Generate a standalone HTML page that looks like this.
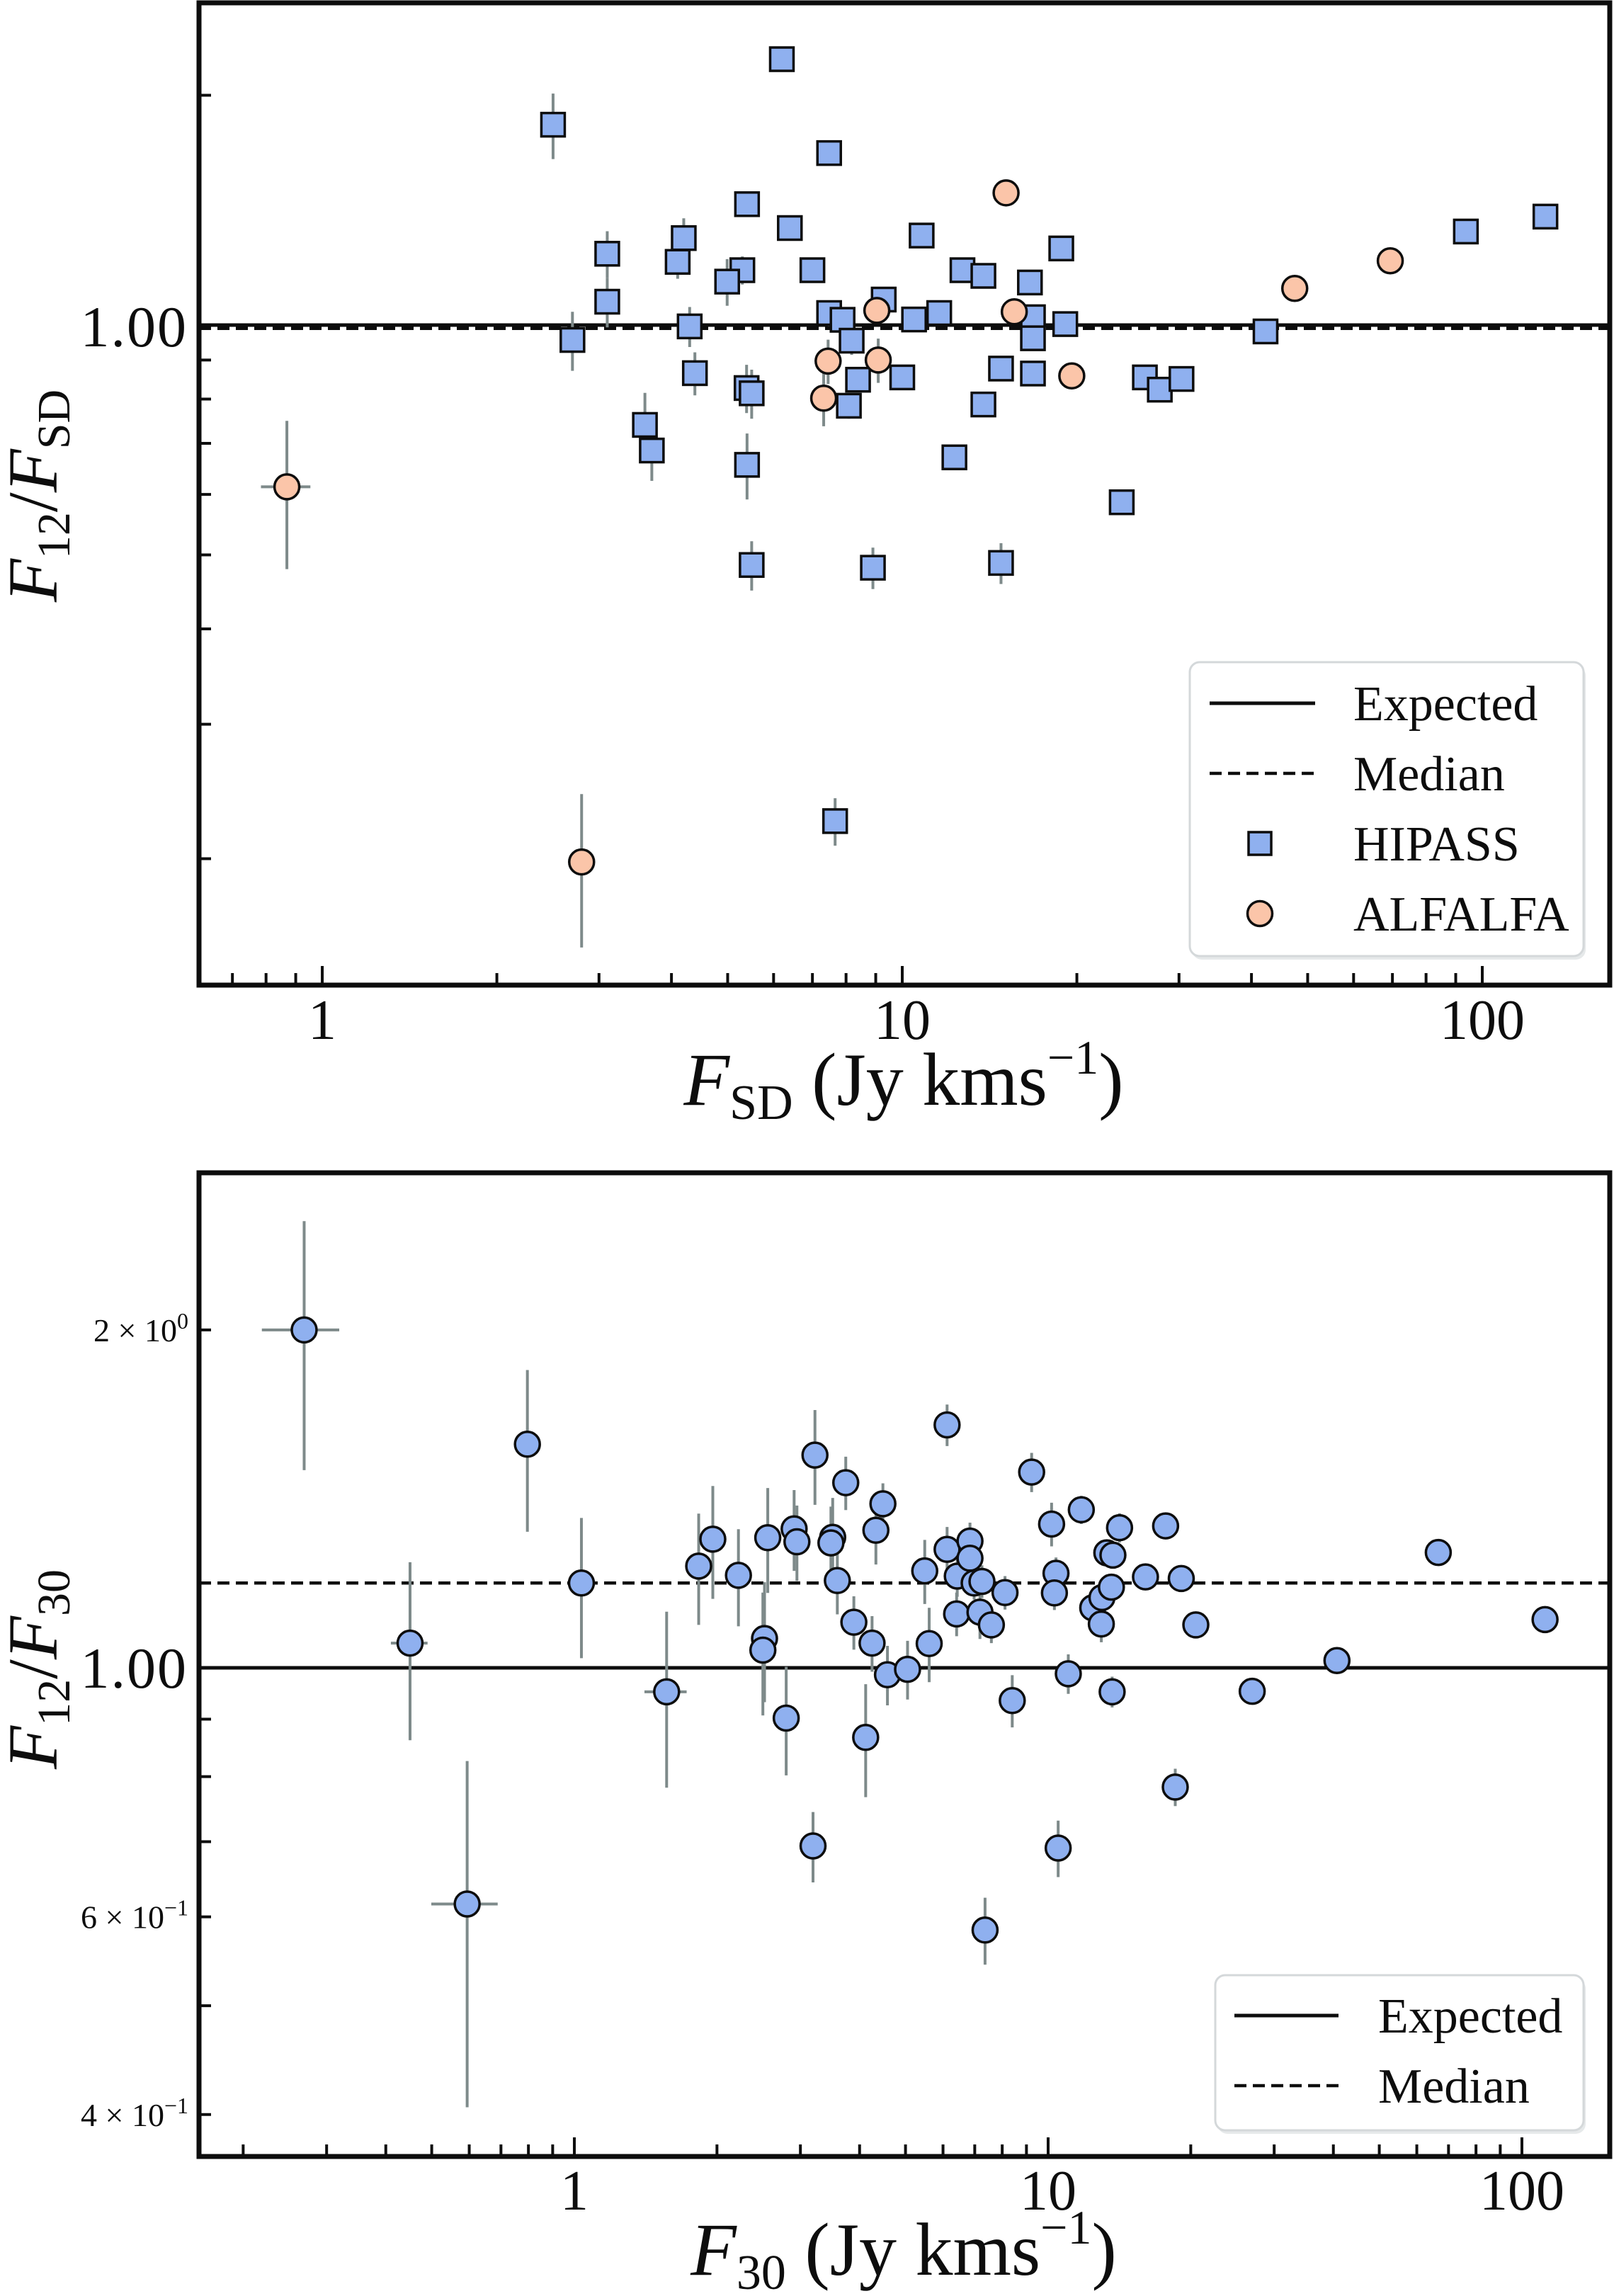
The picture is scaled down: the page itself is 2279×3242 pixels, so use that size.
<!DOCTYPE html>
<html><head><meta charset="utf-8">
<style>
html,body{margin:0;padding:0;background:#fff;}
svg{display:block;font-family:"Liberation Serif","DejaVu Serif",serif;}
</style></head>
<body>
<svg id="fig" width="2279" height="3242" viewBox="0 0 2279 3242" xmlns="http://www.w3.org/2000/svg">
<g id="top"></g>
<g id="bot"></g>
</svg>
<script>
// ---- top panel data ----
const hipassX = [2.50,6.20,7.48,5.40,6.40,3.10,4.20,4.10,5.30,4.99,7.0,3.10,10.8,12.7,13.8,16.6,18.8,2.70,4.30,7.48,7.89,9.29,8.18,10.48,11.58,16.8,19.1,16.8,42.3,4.39,5.39,5.50,8.39,10.0,8.09,14.8,16.8,13.8,26.2,27.8,30.3,3.60,3.70,5.40,12.3,23.9,5.50,8.90,14.8,7.66,93.7,128.5];
const hipassY = [1.83,2.23,1.68,1.44,1.34,1.24,1.30,1.21,1.18,1.14,1.18,1.073,1.31,1.18,1.16,1.137,1.26,0.956,0.996,1.037,1.016,1.08,0.954,1.017,1.037,1.024,1.003,0.961,0.981,0.865,0.827,0.814,0.848,0.854,0.784,0.877,0.864,0.787,0.854,0.823,0.850,0.740,0.685,0.656,0.671,0.586,0.485,0.481,0.488,0.224,1.326,1.387];
const hipassYerr = [0.18,0.02,0.02,0.02,0.03,0.087,0.08,0.06,0.05,0.08,0.03,0.08,0.02,0.02,0.02,0.02,0.02,0.085,0.06,0.04,0.03,0.03,0.04,0.02,0.02,0.02,0.02,0.02,0.02,0.056,0.06,0.06,0.02,0.03,0.03,0.02,0.02,0.02,0.02,0.02,0.02,0.075,0.06,0.065,0.02,0.01,0.036,0.03,0.03,0.016,0.02,0.02];
const alfalfaX = [15.1,9.04,15.6,7.45,9.09,7.32,19.6,0.869,2.80,47.5,69.4];
const alfalfaY = [1.49,1.045,1.041,0.897,0.90,0.802,0.858,0.614,0.198,1.117,1.214];
const alfalfaYerr = [0.02,0.02,0.02,0.06,0.06,0.065,0.02,0.135,0.045,0.02,0.02];
const alfalfaXerr = [0,0,0,0,0,0,0,0.085,0,0,0];
const topMedian = 0.99;
const topXTickLabels = ["1","10","100"];
const topXTickValues = [1,10,100];
// ---- bottom panel data ----
const f30X = [1.566,1.83,1.96,2.22,2.56,2.52,2.50,2.80,2.91,2.95,3.22,3.19,3.51,3.48,3.59,3.74,3.89,4.12,4.25,4.33,4.48,4.58,5.05,5.49,5.61,6.12,6.12,6.41,6.43,6.84,6.84,6.98,7.25,7.18,7.59,7.36,8.11,8.40,9.23,10.17,10.39,10.31,10.5,11.03,11.75,12.42,12.99,12.95,13.3,13.7,13.6,13.65,14.15,16.05,17.7,18.55,19.1,20.5,0.269,0.45,0.594,0.796,1.035,40.7,26.96,66.6,111.9];
const f30Y = [0.952,1.232,1.302,1.209,1.306,1.062,1.037,0.902,1.33,1.295,1.547,0.694,1.307,1.292,1.196,1.462,1.098,0.867,1.052,1.326,1.40,0.986,0.997,1.22,1.051,1.646,1.275,1.117,1.207,1.297,1.252,1.19,1.194,1.121,1.092,0.584,1.167,0.935,1.494,1.343,1.214,1.166,0.691,0.988,1.383,1.131,1.155,1.094,1.266,1.26,1.18,0.952,1.333,1.205,1.338,0.783,1.201,1.092,2.0,1.052,0.616,1.582,1.19,1.015,0.953,1.267,1.104];
const f30Yerr = [0.17,0.14,0.15,0.12,0.14,0.13,0.13,0.10,0.11,0.10,0.15,0.05,0.11,0.10,0.08,0.08,0.06,0.10,0.06,0.09,0.06,0.06,0.06,0.08,0.08,0.07,0.06,0.05,0.05,0.05,0.04,0.04,0.04,0.06,0.04,0.04,0.04,0.05,0.06,0.06,0.04,0.04,0.04,0.04,0.04,0.04,0.04,0.04,0.03,0.03,0.03,0.03,0.04,0.03,0.03,0.03,0.03,0.03,0.5,0.19,0.21,0.26,0.17,0.02,0.02,0.02,0.02];
const f30Xerr = [0.16,0,0,0.06,0,0.1,0.1,0.1,0,0,0.1,0.12,0.15,0.12,0,0,0,0.15,0,0,0,0,0,0,0.2,0,0,0,0,0,0,0,0,0,0,0,0,0,0,0,0,0,0,0,0,0,0,0,0,0,0,0,0,0,0,0,0,0,0.05,0.04,0.095,0.05,0,0,0,0,0];
const botMedian = 1.19;
const botXTickLabels = ["1","10","100"];
const botXTickValues = [1,10,100];

const NS = "http://www.w3.org/2000/svg";
function mk(parent, tag, attrs, text){
  const e = document.createElementNS(NS, tag);
  for (const k in attrs) e.setAttribute(k, attrs[k]);
  if (text !== undefined) e.textContent = text;
  parent.appendChild(e);
  return e;
}
function logAxis(px0, px1, l0, l1){ return v => px0 + (Math.log10(v) - l0) / (l1 - l0) * (px1 - px0); }

const ERR = "#7e8a8a", BLUE = "#8fb0ef", PEACH = "#fbc5a9", INK = "#0d0d0d";

function frame(g, L, R, T, B, X, Y, xminors, yminors, ymajors){
  xminors.forEach(v => {
    const x = X(v);
    const t = mk(g, "line", {x1:x, x2:x, y1:B, y2:B-17, stroke:INK, "stroke-width":4});
    
    
  });
  [1,10,100].forEach(v => {
    const x = X(v);
    const t = mk(g, "line", {x1:x, x2:x, y1:B, y2:B-27, stroke:INK, "stroke-width":4});
    
    
  });
  yminors.forEach(v => {
    const y = Y(v);
    const t = mk(g, "line", {x1:L, x2:L+17, y1:y, y2:y, stroke:INK, "stroke-width":4});
    
    
  });
  ymajors.forEach(v => {
    const y = Y(v);
    const t = mk(g, "line", {x1:L, x2:L+27, y1:y, y2:y, stroke:INK, "stroke-width":4});
    
    
  });
  const r = mk(g, "rect", {x:L, y:T, width:R-L, height:B-T, fill:"none", stroke:INK, "stroke-width":7});
  
  
}

function errbar(g, x1, y1, x2, y2){
  const l = mk(g, "line", {x1:x1, y1:y1, x2:x2, y2:y2, stroke:ERR, "stroke-width":4});
  
  
}

function legendBox(g, x, y, w, h){
  mk(g, "rect", {x:x+3, y:y+5, width:w, height:h, rx:14, fill:"#e6e9ea"});
  const b = mk(g, "rect", {x:x, y:y, width:w, height:h, rx:14, fill:"#fff", stroke:"#d4d8da", "stroke-width":3});
  
  
}

// ================= TOP =================
(function(){
  const g = document.getElementById("top");
  const L=281, R=2273, T=4, B=1391;
  const X = logAxis(L, R, -0.2125, 2.2198);
  const Y = logAxis(B, T, -0.8646, 0.4221);
  const cp = mk(g, "clipPath", {id:"clipTop"});
  mk(cp, "rect", {x:L, y:T, width:R-L, height:B-T});
  const pg = mk(g, "g", {"clip-path":"url(#clipTop)"});
  const med = mk(pg, "line", {x1:L, x2:R, y1:Y(topMedian), y2:Y(topMedian), stroke:INK, "stroke-width":4.5, "stroke-dasharray":"17 9"});
  
  
  const exp = mk(pg, "line", {x1:L, x2:R, y1:Y(1), y2:Y(1), stroke:INK, "stroke-width":5});
  
  
  hipassX.forEach((v,i) => {
    const e = hipassYerr[i] || 0.02;
    errbar(pg, X(v), Y(hipassY[i]+e), X(v), Y(Math.max(hipassY[i]-e, 0.01)));
  });
  hipassX.forEach((v,i) => {
    const s = 33;
    const m = mk(pg, "rect", {x:X(v)-s/2, y:Y(hipassY[i])-s/2, width:s, height:s, fill:BLUE, stroke:INK, "stroke-width":3.5});
    
    
  });
  alfalfaX.forEach((v,i) => {
    const e = alfalfaYerr[i];
    errbar(pg, X(v), Y(alfalfaY[i]+e), X(v), Y(alfalfaY[i]-e));
    if (alfalfaXerr[i] > 0) errbar(pg, X(v-alfalfaXerr[i]), Y(alfalfaY[i]), X(v+alfalfaXerr[i]), Y(alfalfaY[i]));
  });
  alfalfaX.forEach((v,i) => {
    const m = mk(pg, "circle", {cx:X(v), cy:Y(alfalfaY[i]), r:17.5, fill:PEACH, stroke:INK, "stroke-width":3.5});
    
    
  });
  frame(g, L, R, T, B, X, Y,
    [0.7,0.8,0.9,2,3,4,5,6,7,8,9,20,30,40,50,60,70,80,90],
    [2,0.9,0.8,0.7,0.6,0.5,0.4,0.3,0.2], [1]);
  topXTickValues.forEach((v,i) => {
    const t = mk(g, "text", {x:X(v), y:1467, "font-size":80, "text-anchor":"middle", fill:INK}, topXTickLabels[i]);
    
    
  });
  const yl = mk(g, "text", {x:265, y:Y(1)+30, "font-size":82, "text-anchor":"end", fill:INK, "letter-spacing":"2"}, "1.00");
  
  
  const xt = mk(g, "text", {x:1276, y:1560, "font-size":106, "text-anchor":"middle", fill:INK});
  
  
  mk(xt, "tspan", {"font-style":"italic"}, "F");
  mk(xt, "tspan", {"font-size":70, dy:20}, "SD");
  mk(xt, "tspan", {dy:-20}, " (Jy kms");
  mk(xt, "tspan", {"font-size":68, dy:-44}, "\u22121");
  mk(xt, "tspan", {dy:44}, ")");
  const yt = mk(g, "text", {x:0, y:0, "font-size":100, "text-anchor":"middle", fill:INK, transform:"translate(80,700) rotate(-90)"});
  
  
  mk(yt, "tspan", {"font-style":"italic"}, "F");
  mk(yt, "tspan", {"font-size":66, dy:18}, "12");
  mk(yt, "tspan", {dy:-18}, "/");
  mk(yt, "tspan", {"font-style":"italic"}, "F");
  mk(yt, "tspan", {"font-size":66, dy:18}, "SD");
  const lg = mk(g, "g", {});
  
  
  legendBox(lg, 1680, 935, 556, 415);
  const ys = [993, 1092, 1191, 1290];
  const l1 = mk(lg, "line", {x1:1708, x2:1857, y1:ys[0], y2:ys[0], stroke:INK, "stroke-width":5});
  
  
  const l2 = mk(lg, "line", {x1:1708, x2:1857, y1:ys[1], y2:ys[1], stroke:INK, "stroke-width":4.5, "stroke-dasharray":"17 9"});
  
  
  const sq = mk(lg, "rect", {x:1779-16, y:ys[2]-16, width:32, height:32, fill:BLUE, stroke:INK, "stroke-width":3.5});
  
  
  const ci = mk(lg, "circle", {cx:1779, cy:ys[3], r:17.5, fill:PEACH, stroke:INK, "stroke-width":3.5});
  
  
  ["Expected","Median","HIPASS","ALFALFA"].forEach((s,i) => {
    const t = mk(lg, "text", {x:1911, y:ys[i]+24, "font-size":70, fill:INK}, s);
    
    
  });
})();

// ================= BOTTOM =================
(function(){
  const g = document.getElementById("bot");
  const L=281, R=2273, T=1656, B=3045;
  const X = logAxis(L, R, -0.7922, 2.1854);
  const Y = logAxis(B, T, -0.4353, 0.441);
  const cp = mk(g, "clipPath", {id:"clipBot"});
  mk(cp, "rect", {x:L, y:T, width:R-L, height:B-T});
  const pg = mk(g, "g", {"clip-path":"url(#clipBot)"});
  const med = mk(pg, "line", {x1:L, x2:R, y1:Y(botMedian), y2:Y(botMedian), stroke:INK, "stroke-width":4.5, "stroke-dasharray":"17 9"});
  
  
  const exp = mk(pg, "line", {x1:L, x2:R, y1:Y(1), y2:Y(1), stroke:INK, "stroke-width":5});
  
  
  f30X.forEach((v,i) => {
    const e = f30Yerr[i];
    errbar(pg, X(v), Y(f30Y[i]+e), X(v), Y(f30Y[i]-e));
    const xe = f30Xerr[i];
    if (xe > 0) errbar(pg, X(v-xe), Y(f30Y[i]), X(v+xe), Y(f30Y[i]));
  });
  f30X.forEach((v,i) => {
    const m = mk(pg, "circle", {cx:X(v), cy:Y(f30Y[i]), r:17.5, fill:BLUE, stroke:INK, "stroke-width":3.5});
    
    
  });
  frame(g, L, R, T, B, X, Y,
    [0.2,0.3,0.4,0.5,0.6,0.7,0.8,0.9,2,3,4,5,6,7,8,9,20,30,40,50,60,70,80,90],
    [2,0.9,0.8,0.7,0.6,0.5,0.4], [1]);
  botXTickValues.forEach((v,i) => {
    const t = mk(g, "text", {x:X(v), y:3120, "font-size":80, "text-anchor":"middle", fill:INK}, botXTickLabels[i]);
    
    
  });
  const yl = mk(g, "text", {x:265, y:Y(1)+28, "font-size":82, "text-anchor":"end", fill:INK, "letter-spacing":"2"}, "1.00");
  
  
  [[2,"2","0"],[0.6,"6","\u22121"],[0.4,"4","\u22121"]].forEach(d => {
    const t = mk(g, "text", {x:266, y:Y(d[0])+16, "font-size":46, "text-anchor":"end", fill:INK});
    
    
    mk(t, "tspan", {}, d[1] + " \u00d7 10");
    mk(t, "tspan", {"font-size":32, dy:-18}, d[2]);
  });
  const xt = mk(g, "text", {x:1276, y:3212, "font-size":106, "text-anchor":"middle", fill:INK});
  
  
  mk(xt, "tspan", {"font-style":"italic"}, "F");
  mk(xt, "tspan", {"font-size":70, dy:20}, "30");
  mk(xt, "tspan", {dy:-20}, " (Jy kms");
  mk(xt, "tspan", {"font-size":68, dy:-44}, "\u22121");
  mk(xt, "tspan", {dy:44}, ")");
  const yt = mk(g, "text", {x:0, y:0, "font-size":100, "text-anchor":"middle", fill:INK, transform:"translate(80,2357) rotate(-90)"});
  
  
  mk(yt, "tspan", {"font-style":"italic"}, "F");
  mk(yt, "tspan", {"font-size":66, dy:18}, "12");
  mk(yt, "tspan", {dy:-18}, "/");
  mk(yt, "tspan", {"font-style":"italic"}, "F");
  mk(yt, "tspan", {"font-size":66, dy:18}, "30");
  const lg = mk(g, "g", {});
  
  
  legendBox(lg, 1716, 2789, 520, 219);
  const ys = [2846, 2945];
  const l1 = mk(lg, "line", {x1:1743, x2:1890, y1:ys[0], y2:ys[0], stroke:INK, "stroke-width":5});
  
  
  const l2 = mk(lg, "line", {x1:1743, x2:1890, y1:ys[1], y2:ys[1], stroke:INK, "stroke-width":4.5, "stroke-dasharray":"17 9"});
  
  
  ["Expected","Median"].forEach((s,i) => {
    const t = mk(lg, "text", {x:1946, y:ys[i]+24, "font-size":70, fill:INK}, s);
    
    
  });
})();
</script>
</body></html>
